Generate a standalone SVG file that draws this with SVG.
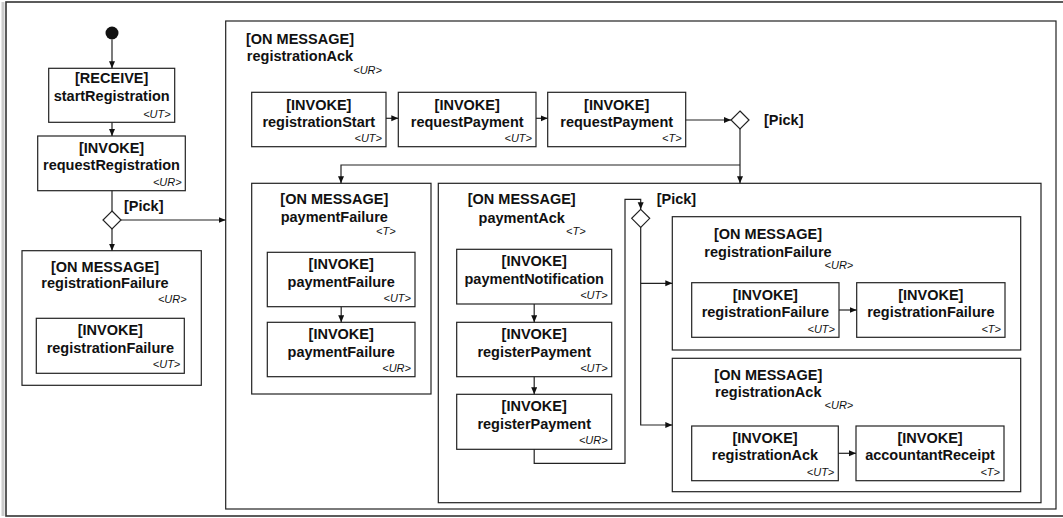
<svg xmlns="http://www.w3.org/2000/svg" width="1063" height="518" viewBox="0 0 1063 518">
<style>
.box{fill:#fff;stroke:#222;stroke-width:1.2}
.frame{fill:none;stroke:#222;stroke-width:1.2}
.t{font-family:"Liberation Sans",Arial,sans-serif;font-weight:bold;font-size:14.5px;fill:#111;text-anchor:middle}
.l{font-family:"Liberation Sans",Arial,sans-serif;font-weight:bold;font-size:14.5px;fill:#111}
.tag{font-family:"Liberation Sans",Arial,sans-serif;font-style:italic;font-size:11px;fill:#111;text-anchor:end}
.c{fill:none;stroke:#222;stroke-width:1.2}
.dia{fill:#fff;stroke:#222;stroke-width:1.2}
</style>
<defs>
<marker id="ah" markerUnits="userSpaceOnUse" markerWidth="8" markerHeight="7" refX="7" refY="3" orient="auto">
<path d="M0,0 L7,3 L0,6 z" fill="#111"/>
</marker>
</defs>
<rect x="0" y="0" width="1063" height="518" fill="#fff"/>
<line x1="3" y1="2" x2="3" y2="516" stroke="#ccc" stroke-width="3"/>
<rect x="6" y="2" width="1062" height="514" fill="none" stroke="#333" stroke-width="1.6"/>

<g id="start"><circle cx="112" cy="33" r="6.5" fill="#111"/></g>

<g id="receive_startRegistration">
<rect class="box" x="48.7" y="68.3" width="126" height="54"/>
<text class="t" x="111.7" y="82.7">[RECEIVE]</text>
<text class="t" x="111.7" y="101">startRegistration</text>
<text class="tag" x="170.7" y="117.7">&lt;UT&gt;</text>
</g>

<g id="invoke_requestRegistration">
<rect class="box" x="37.7" y="136" width="147.6" height="54.7"/>
<text class="t" x="111.5" y="153.3">[INVOKE]</text>
<text class="t" x="111.5" y="170.3">requestRegistration</text>
<text class="tag" x="181.7" y="185.7">&lt;UR&gt;</text>
</g>

<g id="pick1">
<polygon class="dia" points="112,211 121,220 112,229 103,220"/>
<text class="l" x="124" y="211">[Pick]</text>
</g>

<g id="onmsg_registrationFailure_left">
<rect class="box" x="22" y="250.7" width="179.3" height="134.6"/>
<text class="t" x="105" y="272.3">[ON MESSAGE]</text>
<text class="t" x="105" y="288.3">registrationFailure</text>
<text class="tag" x="186.7" y="303.3">&lt;UR&gt;</text>
<g id="invoke_registrationFailure_left">
<rect class="box" x="36.3" y="318.3" width="148" height="55"/>
<text class="t" x="110.3" y="335.3">[INVOKE]</text>
<text class="t" x="110.3" y="352.5">registrationFailure</text>
<text class="tag" x="180.3" y="367.7">&lt;UT&gt;</text>
</g>
</g>

<g id="onmsg_registrationAck_main">
<rect class="box" x="225.7" y="21" width="830.3" height="488"/>
<text class="t" x="300" y="44">[ON MESSAGE]</text>
<text class="t" x="300" y="60.5">registrationAck</text>
<text class="tag" x="382" y="74">&lt;UR&gt;</text>
</g>

<g id="invoke_registrationStart">
<rect class="box" x="251.7" y="92.3" width="134.3" height="54.4"/>
<text class="t" x="318.8" y="110">[INVOKE]</text>
<text class="t" x="318.8" y="126.7">registrationStart</text>
<text class="tag" x="382" y="141.7">&lt;UT&gt;</text>
</g>

<g id="invoke_requestPayment_UT">
<rect class="box" x="398.3" y="92.3" width="137.7" height="54.4"/>
<text class="t" x="467.2" y="110">[INVOKE]</text>
<text class="t" x="467.2" y="126.7">requestPayment</text>
<text class="tag" x="532" y="141.7">&lt;UT&gt;</text>
</g>

<g id="invoke_requestPayment_T">
<rect class="box" x="547.7" y="92.3" width="138" height="54.4"/>
<text class="t" x="616.7" y="110">[INVOKE]</text>
<text class="t" x="616.7" y="126.7">requestPayment</text>
<text class="tag" x="681.7" y="141.7">&lt;T&gt;</text>
</g>

<g id="pick2">
<polygon class="dia" points="740,111 749,120 740,129 731,120"/>
<text class="l" x="764" y="125.3">[Pick]</text>
</g>

<g id="onmsg_paymentFailure">
<rect class="box" x="251.7" y="183.3" width="179.3" height="210.7"/>
<text class="t" x="334.3" y="204.3">[ON MESSAGE]</text>
<text class="t" x="334.3" y="222">paymentFailure</text>
<text class="tag" x="395.7" y="235">&lt;T&gt;</text>
<g id="invoke_paymentFailure_UT">
<rect class="box" x="267.3" y="252.3" width="147.7" height="54.4"/>
<text class="t" x="341.2" y="269.3">[INVOKE]</text>
<text class="t" x="341.2" y="286.5">paymentFailure</text>
<text class="tag" x="411" y="301.7">&lt;UT&gt;</text>
</g>
<g id="invoke_paymentFailure_UR">
<rect class="box" x="267.3" y="322.3" width="147.7" height="54.4"/>
<text class="t" x="341.2" y="339.3">[INVOKE]</text>
<text class="t" x="341.2" y="356.5">paymentFailure</text>
<text class="tag" x="411" y="371.7">&lt;UR&gt;</text>
</g>
</g>

<g id="onmsg_paymentAck">
<rect class="box" x="438.3" y="183.3" width="602.7" height="319.4"/>
<text class="t" x="521.7" y="204.3">[ON MESSAGE]</text>
<text class="t" x="521.7" y="222.5">paymentAck</text>
<text class="tag" x="585.7" y="235">&lt;T&gt;</text>
<g id="invoke_paymentNotification">
<rect class="box" x="456.7" y="249.3" width="155" height="54.7"/>
<text class="t" x="534.2" y="266.3">[INVOKE]</text>
<text class="t" x="534.2" y="283.5">paymentNotification</text>
<text class="tag" x="607.7" y="299">&lt;UT&gt;</text>
</g>
<g id="invoke_registerPayment_UT">
<rect class="box" x="456.7" y="322.3" width="155" height="54.4"/>
<text class="t" x="534.2" y="339.3">[INVOKE]</text>
<text class="t" x="534.2" y="356.5">registerPayment</text>
<text class="tag" x="607.7" y="372">&lt;UT&gt;</text>
</g>
<g id="invoke_registerPayment_UR">
<rect class="box" x="456.7" y="394.3" width="155" height="55"/>
<text class="t" x="534.2" y="411.3">[INVOKE]</text>
<text class="t" x="534.2" y="428.5">registerPayment</text>
<text class="tag" x="607.7" y="444">&lt;UR&gt;</text>
</g>
</g>

<g id="pick3">
<polygon class="dia" points="640.7,209.3 649.7,218.3 640.7,227.3 631.7,218.3"/>
<text class="l" x="656.7" y="204.3">[Pick]</text>
</g>

<g id="onmsg_registrationFailure_right">
<rect class="box" x="672.3" y="216.7" width="348.4" height="133.3"/>
<text class="t" x="768" y="239">[ON MESSAGE]</text>
<text class="t" x="768" y="256.5">registrationFailure</text>
<text class="tag" x="853.3" y="269">&lt;UR&gt;</text>
<g id="invoke_registrationFailure_UT">
<rect class="box" x="691.7" y="282.7" width="147.3" height="54.6"/>
<text class="t" x="765.3" y="299.7">[INVOKE]</text>
<text class="t" x="765.3" y="317">registrationFailure</text>
<text class="tag" x="835" y="332.5">&lt;UT&gt;</text>
</g>
<g id="invoke_registrationFailure_T">
<rect class="box" x="856.7" y="282.7" width="148.3" height="54.6"/>
<text class="t" x="930.8" y="299.7">[INVOKE]</text>
<text class="t" x="930.8" y="317">registrationFailure</text>
<text class="tag" x="1001" y="332.5">&lt;T&gt;</text>
</g>
</g>

<g id="onmsg_registrationAck_right">
<rect class="box" x="672.3" y="358.3" width="348.4" height="133.4"/>
<text class="t" x="768.3" y="380">[ON MESSAGE]</text>
<text class="t" x="768.3" y="396.7">registrationAck</text>
<text class="tag" x="853.3" y="409.3">&lt;UR&gt;</text>
<g id="invoke_registrationAck">
<rect class="box" x="691.7" y="426" width="146.6" height="54.7"/>
<text class="t" x="765" y="443">[INVOKE]</text>
<text class="t" x="765" y="460.3">registrationAck</text>
<text class="tag" x="834.3" y="475.7">&lt;UT&gt;</text>
</g>
<g id="invoke_accountantReceipt">
<rect class="box" x="856" y="426" width="148" height="54.7"/>
<text class="t" x="930" y="443">[INVOKE]</text>
<text class="t" x="930" y="460.3">accountantReceipt</text>
<text class="tag" x="1000" y="475.7">&lt;T&gt;</text>
</g>
</g>

<g id="connectors">
<path class="c" d="M112,39.5 V68.3" marker-end="url(#ah)"/>
<path class="c" d="M112,122.3 V136" marker-end="url(#ah)"/>
<path class="c" d="M112,190.7 V211"/>
<path class="c" d="M112,229 V250.7" marker-end="url(#ah)"/>
<path class="c" d="M121,220 H225.7" marker-end="url(#ah)"/>
<path class="c" d="M386,118.3 H398.3" marker-end="url(#ah)"/>
<path class="c" d="M536,118.3 H547.7" marker-end="url(#ah)"/>
<path class="c" d="M685.7,120 H731" marker-end="url(#ah)"/>
<path class="c" d="M740,129 V183.3" marker-end="url(#ah)"/>
<path class="c" d="M740,165 H341 V183.3" marker-end="url(#ah)"/>
<path class="c" d="M341.2,306.7 V322.3" marker-end="url(#ah)"/>
<path class="c" d="M534.2,304 V322.3" marker-end="url(#ah)"/>
<path class="c" d="M534.2,376.7 V394.3" marker-end="url(#ah)"/>
<path class="c" d="M534.2,449.3 V463.3 H625 V199.3 H640.7 V209.3" marker-end="url(#ah)"/>
<path class="c" d="M640.7,227.3 V425 H672.3" marker-end="url(#ah)"/>
<path class="c" d="M640.7,283.3 H672.3" marker-end="url(#ah)"/>
<path class="c" d="M839,310 H856.7" marker-end="url(#ah)"/>
<path class="c" d="M838.3,453.3 H856" marker-end="url(#ah)"/>
</g>
</svg>
